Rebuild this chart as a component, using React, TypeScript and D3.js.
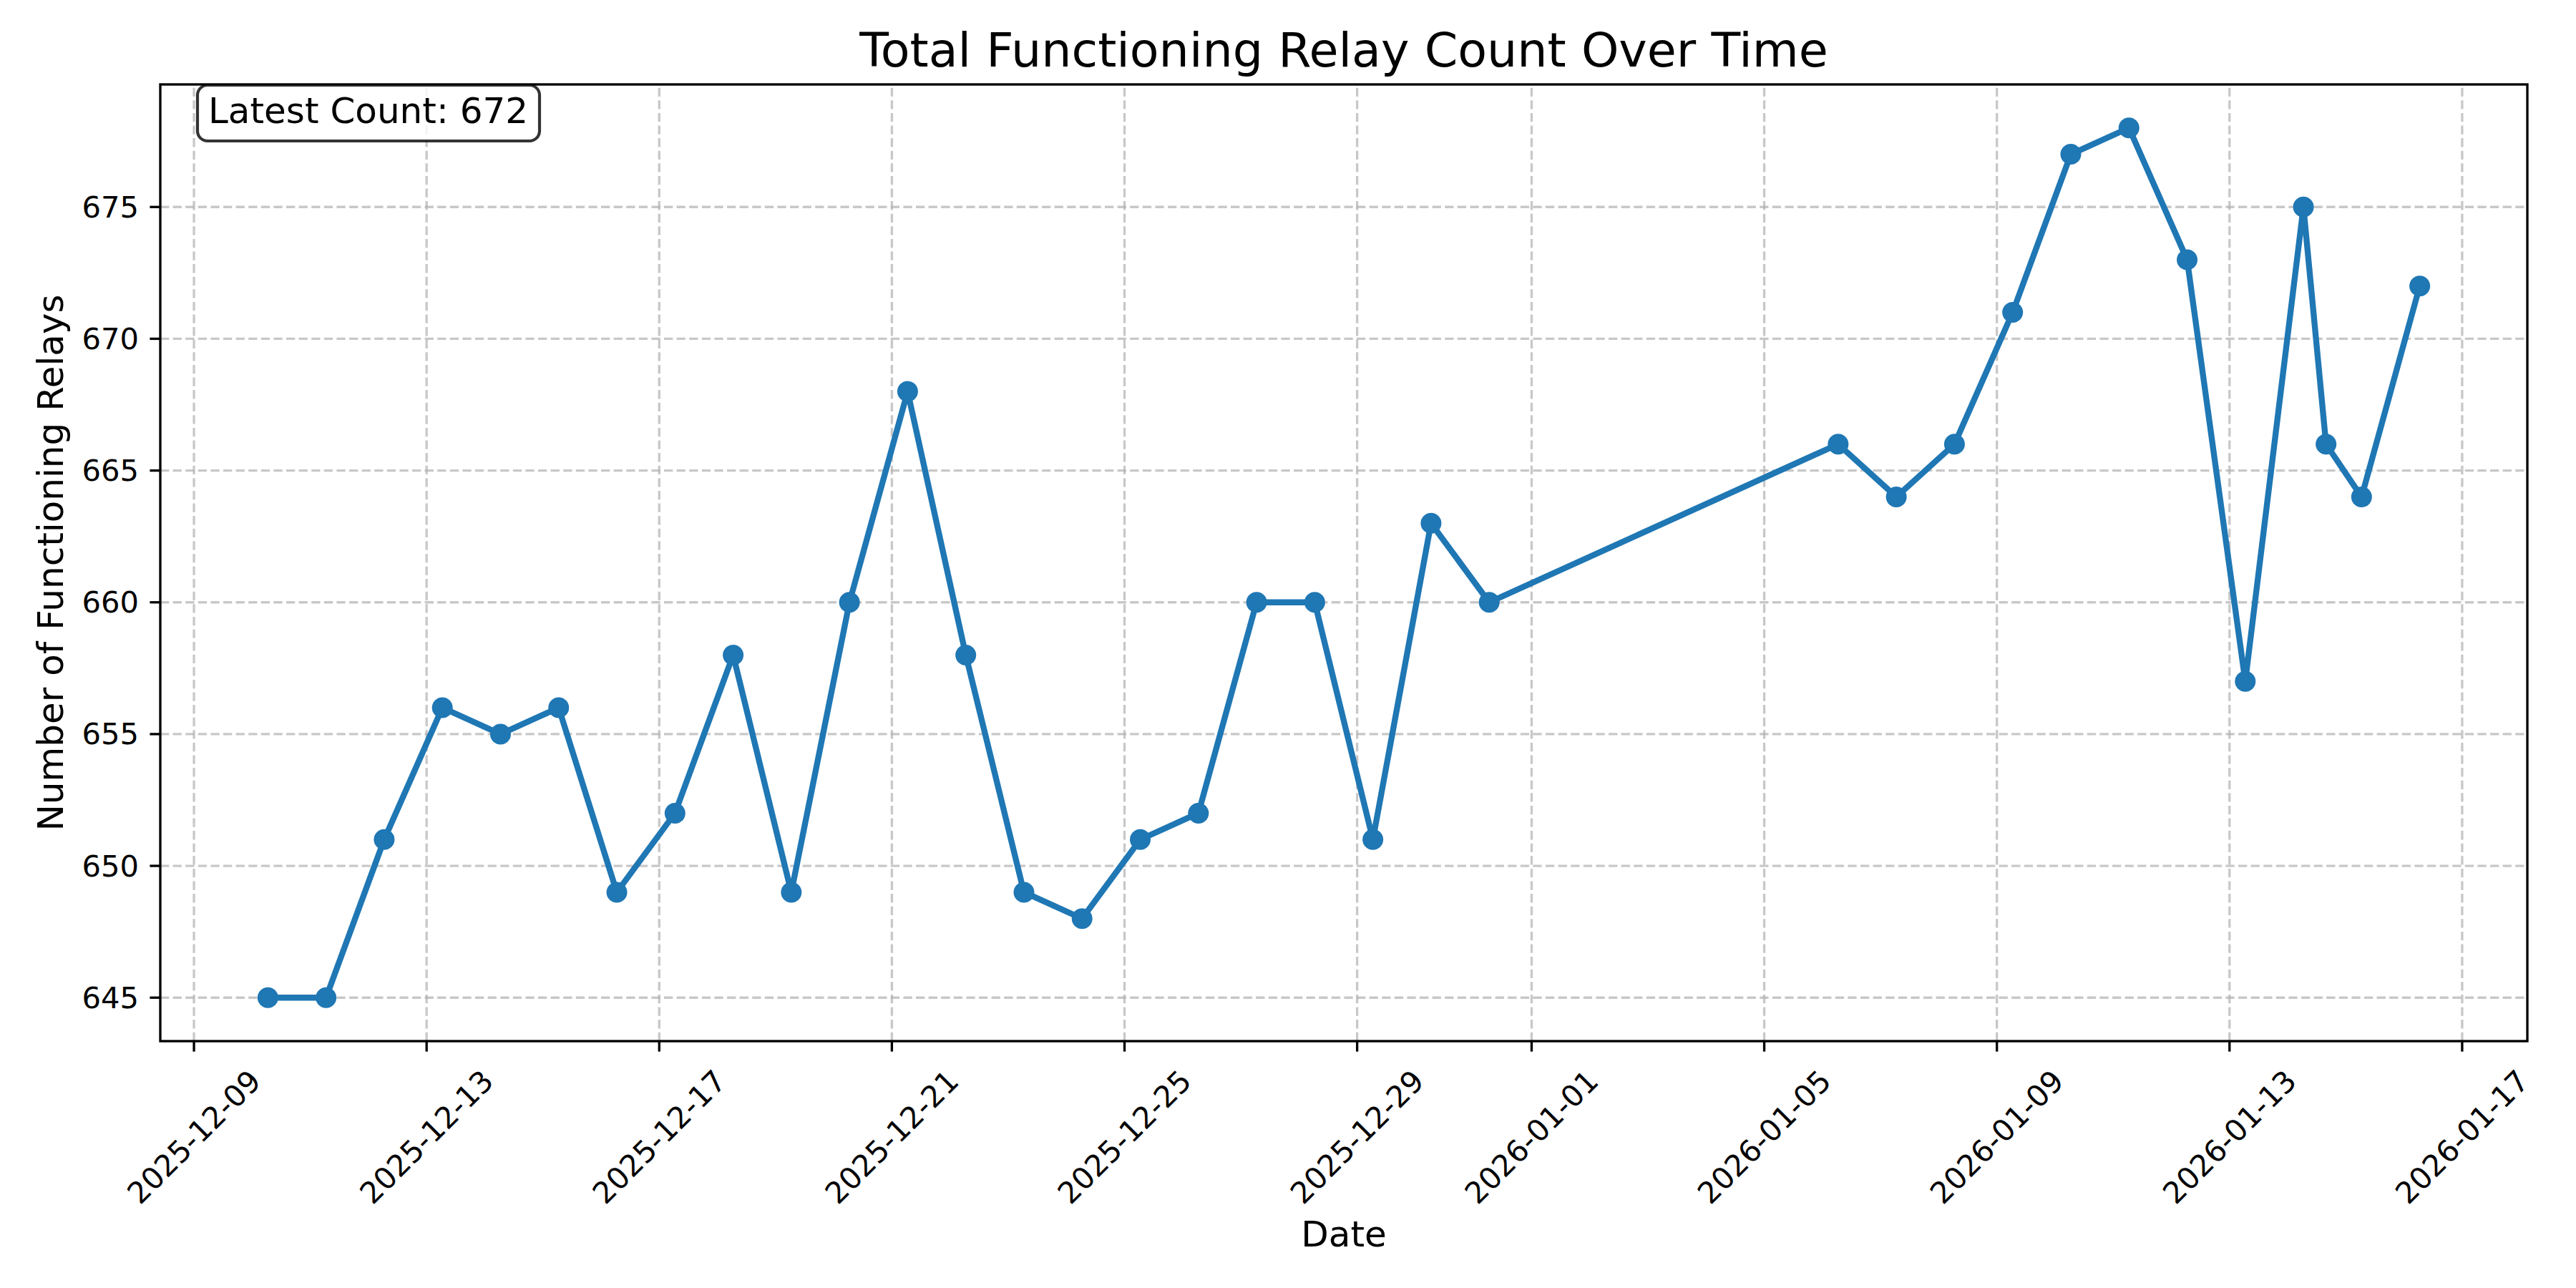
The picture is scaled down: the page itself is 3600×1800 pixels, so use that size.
import * as d3 from 'd3';

const WIDTH = 3600;
const HEIGHT = 1800;
const M = {left: 224, right: 68, top: 118, bottom: 345};
const FONT = '"DejaVu Sans", sans-serif';
const BLUE = '#1f77b4';

const dates = [
  '2025-12-10T06:30', '2025-12-11T06:30', '2025-12-12T06:30', '2025-12-13T06:30',
  '2025-12-14T06:30', '2025-12-15T06:30', '2025-12-16T06:30', '2025-12-17T06:30',
  '2025-12-18T06:30', '2025-12-19T06:30', '2025-12-20T06:30', '2025-12-21T06:30',
  '2025-12-22T06:30', '2025-12-23T06:30', '2025-12-24T06:30', '2025-12-25T06:30',
  '2025-12-26T06:30', '2025-12-27T06:30', '2025-12-28T06:30', '2025-12-29T06:30',
  '2025-12-30T06:30', '2025-12-31T06:30',
  '2026-01-06T06:30', '2026-01-07T06:30', '2026-01-08T06:30', '2026-01-09T06:30',
  '2026-01-10T06:30', '2026-01-11T06:30', '2026-01-12T06:30', '2026-01-13T06:30',
  '2026-01-14T06:30', '2026-01-14T15:50', '2026-01-15T06:30', '2026-01-16T06:30',
];

const counts = [
  645, 645, 651, 656, 655, 656, 649, 652, 658, 649, 660, 668, 658, 649, 648, 651,
  652, 660, 660, 651, 663, 660,
  666, 664, 666, 671, 677, 678, 673, 657, 675, 666, 664, 672,
];

const xTickDates = [
  '2025-12-09', '2025-12-13', '2025-12-17', '2025-12-21', '2025-12-25', '2025-12-29',
  '2026-01-01', '2026-01-05', '2026-01-09', '2026-01-13', '2026-01-17',
];

const yTicks = [645, 650, 655, 660, 665, 670, 675];

const parseTime = d3.utcParse('%Y-%m-%dT%H:%M');
const parseDay = d3.utcParse('%Y-%m-%d');

export default function App() {
  const points = dates.map((d, i) => ({t: parseTime(d)!, v: counts[i]}));

  const [tMin, tMax] = d3.extent(points, (p) => +p.t) as [number, number];
  const tPad = (tMax - tMin) * 0.05;
  const [vMin, vMax] = d3.extent(points, (p) => p.v) as [number, number];
  const vPad = (vMax - vMin) * 0.05;

  const x = d3
    .scaleUtc()
    .domain([new Date(tMin - tPad), new Date(tMax + tPad)])
    .range([M.left, WIDTH - M.right]);
  const y = d3
    .scaleLinear()
    .domain([vMin - vPad, vMax + vPad])
    .range([HEIGHT - M.bottom, M.top]);

  const line = d3
    .line<{t: Date; v: number}>()
    .x((p) => x(p.t))
    .y((p) => y(p.v));

  const x0 = M.left;
  const x1 = WIDTH - M.right;
  const y0 = HEIGHT - M.bottom;
  const y1 = M.top;
  const cx = (x0 + x1) / 2;
  const cy = (y0 + y1) / 2;
  const latest = counts[counts.length - 1];

  return (
    <svg
      width={WIDTH}
      height={HEIGHT}
      style={{position: 'absolute', left: 0, top: 0, background: '#fff'}}
      fontFamily={FONT}
    >
      <rect x={0} y={0} width={WIDTH} height={HEIGHT} fill="#fff" />

      {/* grid */}
      <g stroke="#b0b0b0" strokeOpacity={0.7} strokeWidth={3.33} strokeDasharray="12.3 5.3">
        {xTickDates.map((d) => {
          const px = x(parseDay(d)!);
          return <line key={d} x1={px} x2={px} y1={y0} y2={y1} />;
        })}
        {yTicks.map((v) => (
          <line key={v} x1={x0} x2={x1} y1={y(v)} y2={y(v)} />
        ))}
      </g>

      {/* data */}
      <path d={line(points)!} fill="none" stroke={BLUE} strokeWidth={8.33} strokeLinejoin="round" />
      {points.map((p, i) => (
        <circle key={i} cx={x(p.t)} cy={y(p.v)} r={14.5} fill={BLUE} />
      ))}

      {/* spines */}
      <rect x={x0} y={y1} width={x1 - x0} height={y0 - y1} fill="none" stroke="#000" strokeWidth={3.33} />

      {/* x ticks */}
      {xTickDates.map((d) => {
        const px = x(parseDay(d)!);
        return (
          <g key={d}>
            <line x1={px} x2={px} y1={y0} y2={y0 + 14.6} stroke="#000" strokeWidth={3.33} />
            <text
              transform={`translate(${px},${y0 + 134}) rotate(-45)`}
              textAnchor="middle"
              dominantBaseline="central"
              fontSize={41.7}
            >
              {d}
            </text>
          </g>
        );
      })}

      {/* y ticks */}
      {yTicks.map((v) => (
        <g key={v}>
          <line x1={x0 - 14.6} x2={x0} y1={y(v)} y2={y(v)} stroke="#000" strokeWidth={3.33} />
          <text x={x0 - 30} y={y(v)} textAnchor="end" dominantBaseline="central" fontSize={41.7}>
            {v}
          </text>
        </g>
      ))}

      {/* labels */}
      <text x={cx} y={93} textAnchor="middle" fontSize={66.7}>
        Total Functioning Relay Count Over Time
      </text>
      <text x={cx} y={1742} textAnchor="middle" fontSize={50}>
        Date
      </text>
      <text
        transform={`translate(88,${cy}) rotate(-90)`}
        textAnchor="middle"
        fontSize={50}
      >
        Number of Functioning Relays
      </text>

      {/* latest count box */}
      <rect
        x={276}
        y={119}
        width={478}
        height={78}
        rx={14}
        fill="#fff"
        fillOpacity={0.8}
        stroke="#000"
        strokeOpacity={0.8}
        strokeWidth={4.17}
      />
      <text x={291} y={172} fontSize={50}>
        Latest Count: {latest}
      </text>
    </svg>
  );
}
